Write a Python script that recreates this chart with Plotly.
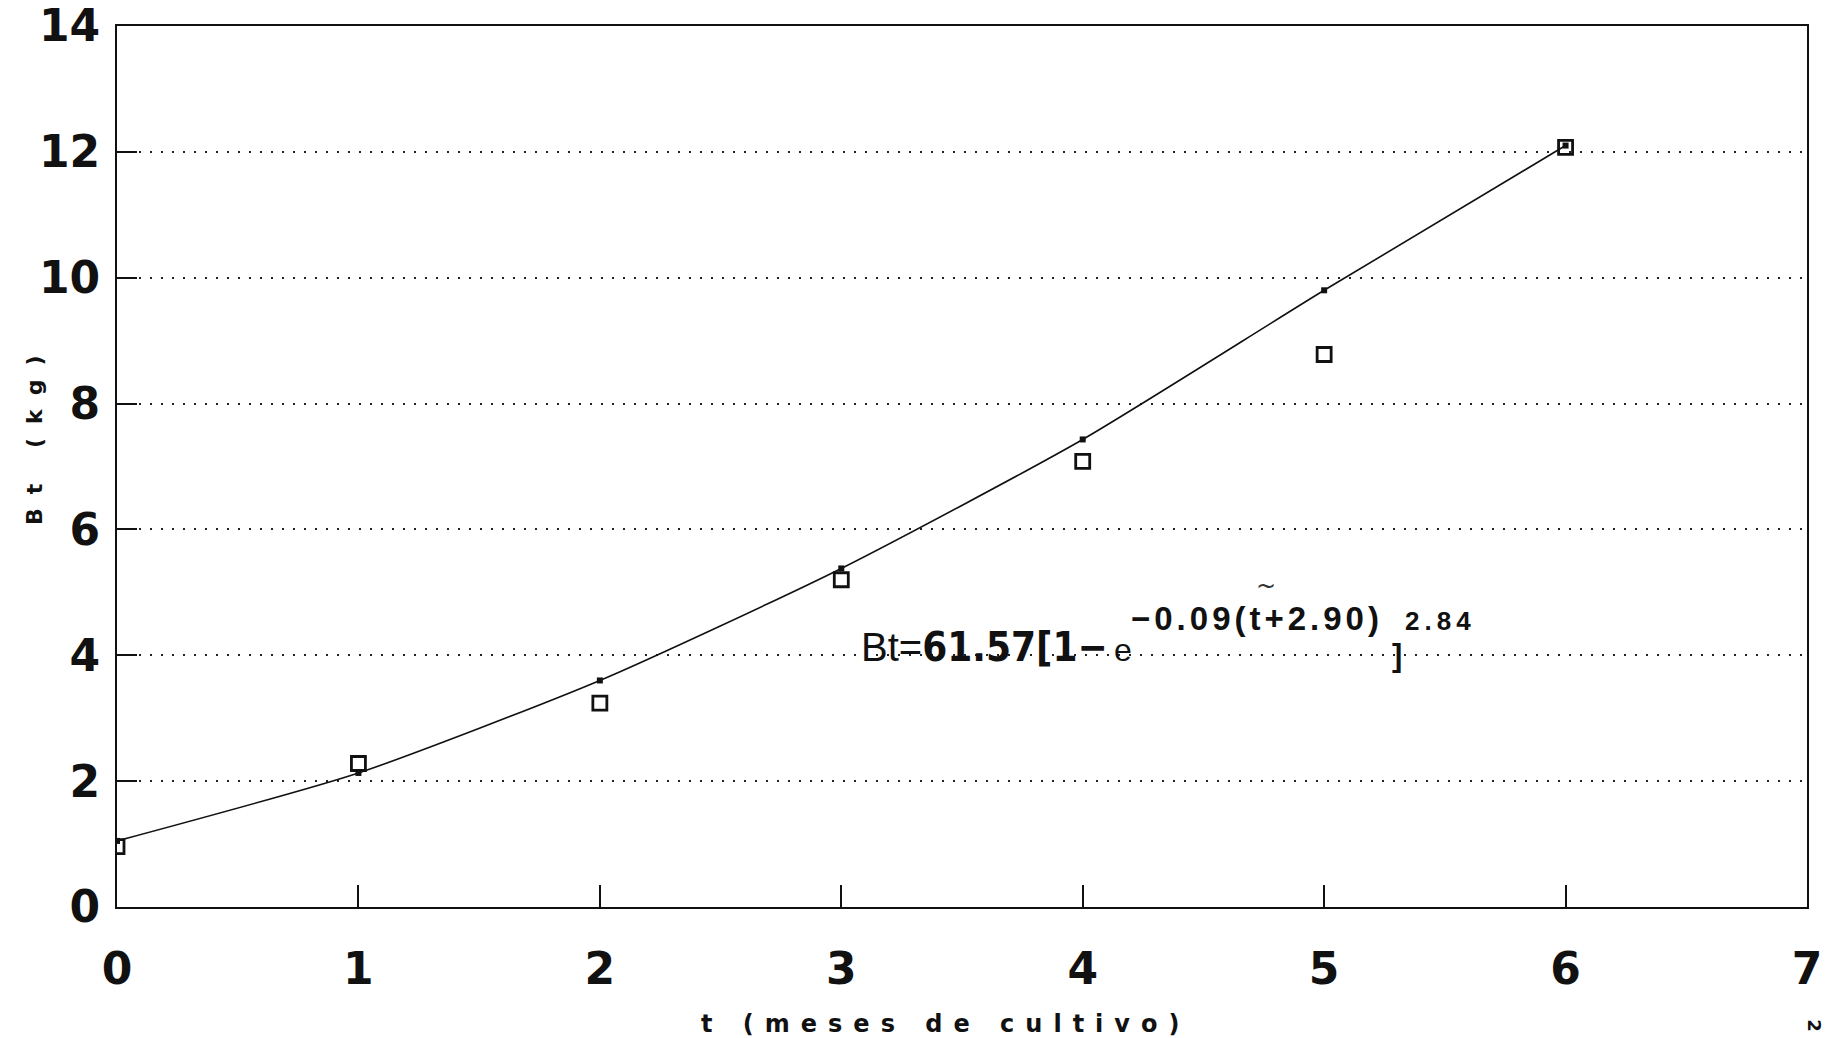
import plotly.graph_objects as go

# ---- data ----
months = [0, 1, 2, 3, 4, 5, 6]
observed = [0.96, 2.28, 3.24, 5.20, 7.08, 8.78, 12.07]
fitted = [1.05, 2.13, 3.60, 5.38, 7.43, 9.80, 12.10]
x_ticks = [0, 1, 2, 3, 4, 5, 6, 7]
y_ticks = [0, 2, 4, 6, 8, 10, 12, 14]

x_title = "t (meses de cultivo)"
y_title = "Bt (kg)"

fig = go.Figure()

# fitted curve
fig.add_trace(go.Scatter(
    x=months, y=fitted, mode="lines+markers",
    line=dict(color="#111", width=1.6, shape="spline", smoothing=0.6),
    marker=dict(symbol="square", size=6, color="#111"),
    showlegend=False, hoverinfo="skip",
))
# observed points
fig.add_trace(go.Scatter(
    x=months, y=observed, mode="markers",
    marker=dict(symbol="square-open", size=14, color="#111",
                line=dict(width=2.8, color="#111")),
    showlegend=False,
))

tick_font = dict(family="DejaVu Sans, sans-serif", size=44, color="#111", weight="bold")

fig.update_xaxes(
    range=[0, 7], tickvals=x_ticks, ticktext=[str(v) for v in x_ticks],
    showline=True, linecolor="#111", linewidth=2, mirror=True,
    ticks="inside", ticklen=22, tickwidth=2, tickcolor="#111",
    showgrid=False, zeroline=False, automargin=False,
    tickfont=tick_font, ticklabelstandoff=22, ticklabeloverflow="allow",
)
fig.update_yaxes(
    range=[0, 14], tickvals=y_ticks, ticktext=[str(v) for v in y_ticks],
    showline=True, linecolor="#111", linewidth=2, mirror=True,
    ticks="inside", ticklen=20, tickwidth=2, tickcolor="#111",
    showgrid=True, gridcolor="#222", gridwidth=2, griddash="2px,9px",
    zeroline=False, automargin=False,
    tickfont=tick_font, ticklabelstandoff=6, ticklabeloverflow="allow",
)

eq_main = (
    "Bt="
    "<span style=\"font-family:'Liberation Sans Narrow','DejaVu Sans Condensed','Liberation Sans',sans-serif;"
    "font-weight:bold\">61.57[1\u2212</span>"
    "<span style=\"font-size:32px\">\u2009e</span>"
)
eq_exp = '<span style="letter-spacing:4px">\u22120.09(t+2.90)</span>'
eq_bracket = "]"
eq_power = '<span style="letter-spacing:5px">2.84</span>'

eq_font = "Liberation Sans, Arial, sans-serif"

annotations = [
    dict(xref="paper", yref="paper", x=0.49, y=-0.133,
         xanchor="center", yanchor="middle", showarrow=False,
         text='<span style="letter-spacing:11px">' + x_title + '</span>',
         font=dict(family="DejaVu Sans, sans-serif", size=24, color="#111", weight="bold")),
    dict(xref="paper", yref="paper", x=-0.0485, y=0.537,
         xanchor="center", yanchor="middle", showarrow=False, textangle=-90,
         text='<span style="letter-spacing:14px">' + y_title + '</span>',
         font=dict(family="DejaVu Sans, sans-serif", size=22, color="#111", weight="bold")),
    dict(xref="x", yref="y", x=3.074, y=4.13,
         xanchor="left", yanchor="middle", showarrow=False,
         text=eq_main, font=dict(family=eq_font, size=40, color="#111")),
    dict(xref="x", yref="y", x=4.19, y=4.58,
         xanchor="left", yanchor="middle", showarrow=False,
         text=eq_exp, font=dict(family=eq_font, size=33, color="#111", weight="bold")),
    dict(xref="x", yref="y", x=5.272, y=4.0,
         xanchor="left", yanchor="middle", showarrow=False,
         text=eq_bracket, font=dict(family=eq_font, size=31, color="#111", weight="bold")),
    dict(xref="x", yref="y", x=5.325, y=4.55,
         xanchor="left", yanchor="middle", showarrow=False,
         text=eq_power, font=dict(family=eq_font, size=26, color="#111", weight="bold")),
    dict(xref="x", yref="y", x=4.76, y=5.1, xanchor="center", yanchor="middle",
         showarrow=False, text="~",
         font=dict(family="DejaVu Sans, sans-serif", size=24, color="#333")),
    dict(xref="paper", yref="paper", x=1.004, y=-0.135, xanchor="center", yanchor="middle",
         showarrow=False, text="2", textangle=90,
         font=dict(family="DejaVu Sans, sans-serif", size=18, color="#111", weight="bold")),
]

fig.update_layout(
    width=1828, height=1038, autosize=False,
    margin=dict(l=117, r=21, t=26, b=131),
    paper_bgcolor="white", plot_bgcolor="white",
    annotations=annotations,
)

fig.write_html("out.html")
